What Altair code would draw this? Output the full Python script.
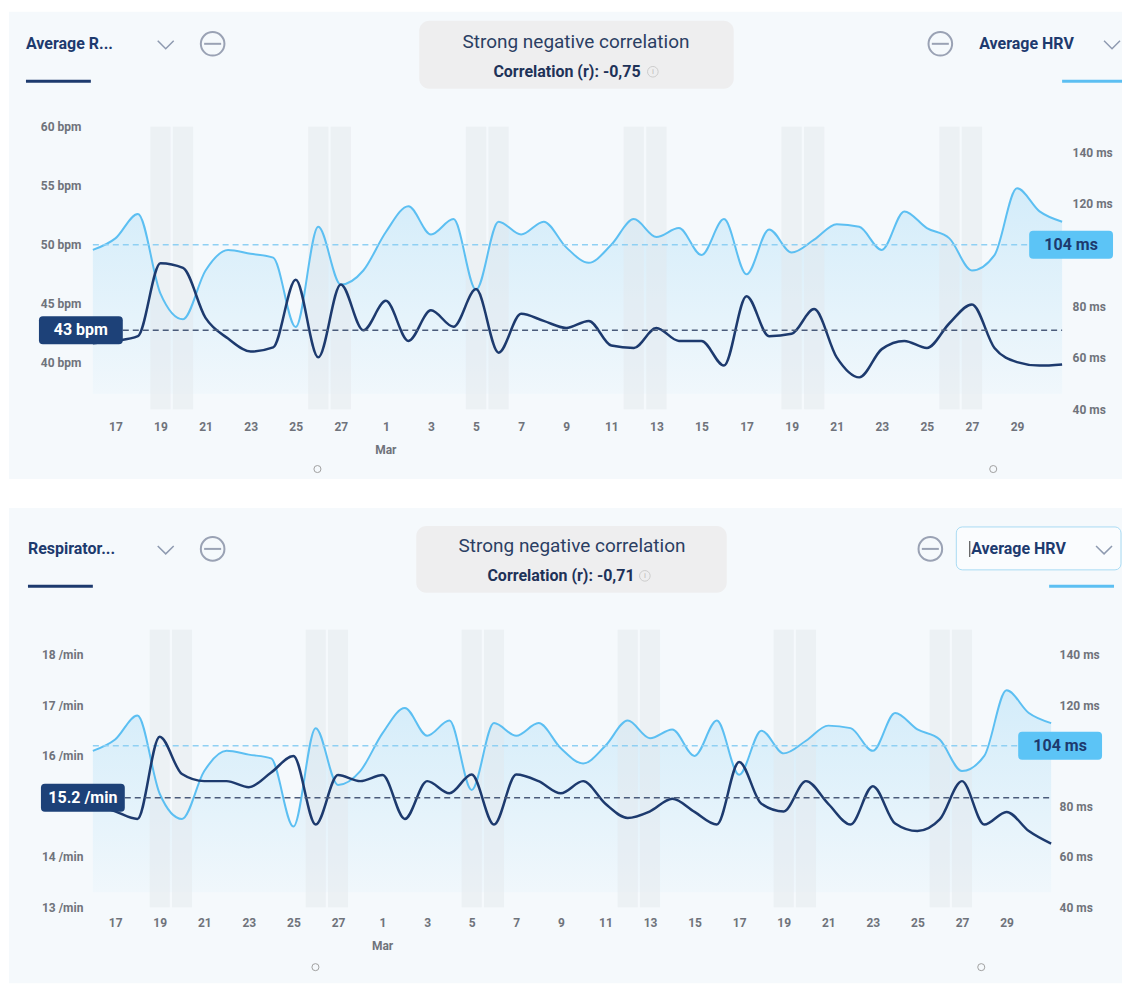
import json
import altair as alt
import pandas as pd

# ---------------- data ----------------
dates = [
    "2022-02-16", "2022-02-17", "2022-02-18", "2022-02-19", "2022-02-20", "2022-02-21",
    "2022-02-22", "2022-02-23", "2022-02-24", "2022-02-25", "2022-02-26", "2022-02-27",
    "2022-02-28", "2022-03-01", "2022-03-02", "2022-03-03", "2022-03-04", "2022-03-05",
    "2022-03-06", "2022-03-07", "2022-03-08", "2022-03-09", "2022-03-10", "2022-03-11",
    "2022-03-12", "2022-03-13", "2022-03-14", "2022-03-15", "2022-03-16", "2022-03-17",
    "2022-03-18", "2022-03-19", "2022-03-20", "2022-03-21", "2022-03-22", "2022-03-23",
    "2022-03-24", "2022-03-25", "2022-03-26", "2022-03-27", "2022-03-28", "2022-03-29",
    "2022-03-30", "2022-03-31",
]
day_labels = [
    "16", "17", "18", "19", "20", "21", "22", "23", "24", "25", "26", "27", "28",
    "1", "2", "3", "4", "5", "6", "7", "8", "9", "10", "11", "12", "13", "14", "15",
    "16", "17", "18", "19", "20", "21", "22", "23", "24", "25", "26", "27", "28", "29",
    "30", "31",
]
hrv = [102, 106.5, 116, 85, 75, 94, 102, 100.5, 99, 72, 111, 88.5, 94, 109, 119, 108,
       114, 86.5, 113, 108, 113, 103, 97, 104, 114, 107, 110.5, 100, 114, 92.5, 110, 101,
       106, 112, 111, 102, 117, 110.5, 106.5, 94, 100, 126, 117, 113]
resting_hr = [41.6, 41.8, 42.2, 48.4, 48.0, 43.75, 42.0, 40.9, 41.25, 47.0, 40.4, 46.6,
              42.7, 45.2, 41.8, 44.4, 43.0, 46.2, 40.8, 44.1, 43.5, 42.9, 43.5, 41.4,
              41.2, 42.9, 41.8, 41.8, 39.7, 45.6, 42.2, 42.4, 44.5, 40.4, 38.7, 41.1,
              41.8, 41.2, 43.3, 44.9, 41.2, 40.0, 39.7, 39.8]
resp_rate = [15.05, 14.9, 14.75, 16.38, 15.64, 15.5, 15.5, 15.38, 15.67, 16.0, 14.64,
             15.62, 15.5, 15.62, 14.75, 15.5, 15.26, 15.63, 14.64, 15.63, 15.5, 15.26,
             15.5, 15.05, 14.77, 14.9, 15.15, 14.89, 14.64, 15.88, 15.05, 14.9, 15.5,
             15.05, 14.64, 15.4, 14.66, 14.51, 14.74, 15.5, 14.64, 14.89, 14.51, 14.26]
hrv_avg = [104]
hr_avg = [42.7]
resp_avg = [15.17]
correlations = ["-0,75", "-0,71"]
left_titles = ["Average R...", "Respirator..."]
right_title = "Average HRV"

df = pd.DataFrame({"d": list(range(len(dates))), "date": dates, "hrv": hrv,
                   "hr": resting_hr, "resp": resp_rate})
wk = pd.to_datetime(pd.Series(dates)).dt.dayofweek
weekend = pd.DataFrame({"d": [i for i, w in enumerate(wk) if w >= 5]})
tick_vals = list(range(1, len(dates) - 2, 2))

# ---------------- style ----------------
NAVY = "#1d3a6e"
LIGHT = "#5cbff2"
PANEL_BG = "#f5f9fc"
FONT = "Roboto"
GRAY_ICON = "#9aa2b4"
AX_LABEL = "#6f737b"
one = pd.DataFrame({"k": [0]})

BOX_PATH = ("M-0.905,-0.333 L0.905,-0.333 Q1,-0.333 1,-0.238 L1,0.238 Q1,0.333 0.905,0.333 "
            "L-0.905,0.333 Q-1,0.333 -1,0.238 L-1,-0.238 Q-1,-0.333 -0.905,-0.333 Z")
CHEVRON = "M-1,-0.5L0,0.5L1,-0.5"
DASH = "M-1,0L1,0"
RIGHT_EDGE = 1031  # panel background right edge, relative to plot origin


def rect(x, x2, y, y2, **kw):
    return alt.Chart(one).mark_rect(**kw).encode(
        x=alt.value(x), x2=alt.value(x2), y=alt.value(y), y2=alt.value(y2))


def text(x, y, s, **kw):
    kw.setdefault("font", FONT)
    return alt.Chart(one).mark_text(text=s, **kw).encode(x=alt.value(x), y=alt.value(y))


def sym(x, y, shape, size, **kw):
    return alt.Chart(one).mark_point(shape=shape, size=size, opacity=1, **kw).encode(
        x=alt.value(x), y=alt.value(y))


def minus_icon(x, y):
    return [sym(x, y, "circle", 560, filled=False, color=GRAY_ICON, strokeWidth=2),
            sym(x, y, DASH, 290, filled=False, color=GRAY_ICON, strokeWidth=2)]


def panel(W, H, left_field, left_domain, left_ticks, left_unit, left_avg, left_avg_text,
          corr, left_title, p):
    xscale = alt.Scale(domain=[0, len(dates) - 1], nice=False, zero=False)
    xaxis = alt.Axis(values=tick_vals, labelExpr=json.dumps(day_labels) + "[datum.value]",
                     grid=False, ticks=False, domain=False, labelPadding=p["xpad"],
                     labelFont=FONT, labelFontSize=12, labelFontWeight="bold",
                     labelColor=AX_LABEL, title=None, zindex=1)
    rscale = alt.Scale(domain=[40, 150], nice=False, zero=False)
    lscale = alt.Scale(domain=left_domain, nice=False, zero=False)
    raxis = alt.Axis(orient="right", values=[40, 60, 80, 120, 140], labelExpr="datum.value + ' ms'",
                     grid=False, ticks=False, domain=False, labelPadding=p["rpad"], labelFont=FONT,
                     labelFontSize=12, labelFontWeight="bold", labelColor=AX_LABEL, title=None,
                     zindex=1)
    laxis = alt.Axis(orient="left", values=left_ticks,
                     labelExpr="datum.value + ' " + left_unit + "'",
                     grid=False, ticks=False, domain=False, labelPadding=p["lpad"], labelFont=FONT,
                     labelFontSize=12, labelFontWeight="bold", labelColor=AX_LABEL, title=None,
                     zindex=1)

    grad = alt.Gradient(gradient="linear", x1=0, x2=0, y1=0, y2=1, stops=[
        alt.GradientStop(color="rgba(92,191,242,0.22)", offset=0),
        alt.GradientStop(color="rgba(92,191,242,0.03)", offset=1)])

    deco = [
        rect(-84, RIGHT_EDGE, p["bg_top"], p["bg_bottom"], color=PANEL_BG),
        text(p["lt_x"], p["hy"], left_title, align="left", baseline="middle",
             fontSize=16, fontWeight="bold", color=NAVY),
        sym(p["chev1"], p["hy"] + 1, CHEVRON, 256, filled=False, color="#8e9ab0", strokeWidth=1.5),
        *minus_icon(p["minus1"], p["hy"]),
        rect(p["ul1"][0], p["ul1"][1], p["ul_y"], p["ul_y"] + 3, color=NAVY),
        rect(p["cbox"][0], p["cbox"][1], p["cbox"][2], p["cbox"][3], color="#eeeeef",
             cornerRadius=10),
        text(p["ctx"], p["cty1"], "Strong negative correlation", align="center",
             baseline="middle", fontSize=19, color="#2b3e63"),
        text(p["ctx2"], p["cty2"], "Correlation (r): " + corr, align="center",
             baseline="middle", fontSize=16, fontWeight="bold", color="#1e3258"),
        sym(p["info"], p["cty2"], "circle", 113, filled=False, color="#cccccc", strokeWidth=1),
        text(p["info"], p["cty2"] + 0.5, "i", align="center", baseline="middle",
             fontSize=8, color="#bbbbbb"),
        *minus_icon(p["minus2"], p["hy"]),
    ]
    if p.get("rbox"):
        deco.append(rect(p["rbox"][0], p["rbox"][1], p["rbox"][2], p["rbox"][3],
                         color="#fafcfe", stroke="#a9dbf3", strokeWidth=1, cornerRadius=6))
        deco.append(rect(p["rt_x"] - 2, p["rt_x"] - 1, p["hy"] - 8, p["hy"] + 8, color="#333333"))
    deco += [
        text(p["rt_x"], p["hy"], right_title, align="left", baseline="middle",
             fontSize=16, fontWeight="bold", color=NAVY),
        sym(p["chev2"], p["hy"] + 1, CHEVRON, 256, filled=False, color="#8e9ab0", strokeWidth=1.5),
        rect(p["ul2"][0], min(p["ul2"][1], RIGHT_EDGE), p["ul_y"], p["ul_y"] + 3, color=LIGHT),
        sym(p["dot1"], p["dot_y"], "circle", 50, filled=False, color="#a0a0a0", strokeWidth=1),
        sym(p["dot2"], p["dot_y"], "circle", 50, filled=False, color="#a0a0a0", strokeWidth=1),
    ]

    base = alt.Chart(df)
    area = base.mark_area(interpolate="monotone", color=grad).encode(
        x=alt.X("d:Q", scale=xscale, axis=xaxis),
        y=alt.Y("hrv:Q", scale=rscale, axis=raxis),
        y2=alt.datum(46))
    bands = alt.Chart(weekend).mark_rect(color="#e3e6ea", opacity=0.45).transform_calculate(
        a="datum.d - 0.45", b="datum.d + 0.45").encode(
        x=alt.X("a:Q", scale=xscale, axis=xaxis), x2="b:Q",
        y=alt.value(0), y2=alt.value(H))
    hrv_line = base.mark_line(interpolate="monotone", color=LIGHT, strokeWidth=2).encode(
        x=alt.X("d:Q", scale=xscale, axis=xaxis),
        y=alt.Y("hrv:Q", scale=rscale, axis=raxis))
    avg_df = pd.DataFrame({"v": hrv_avg})
    hrv_rule = alt.Chart(avg_df).mark_rule(color="#8fd0f3", strokeWidth=1.5,
                                           strokeDash=[6, 4]).encode(
        y=alt.Y("v:Q", scale=rscale, axis=raxis), x=alt.value(0), x2=alt.value(p["hbox"] - 42))
    hrv_box = alt.Chart(avg_df).mark_point(shape=BOX_PATH, size=7056, filled=True,
                                           color="#5cc4f6", opacity=1).encode(
        y=alt.Y("v:Q", scale=rscale, axis=raxis), x=alt.value(p["hbox"]))
    hrv_txt = alt.Chart(avg_df).mark_text(font=FONT, fontSize=16, fontWeight="bold",
                                          color=NAVY).transform_calculate(
        t="format(datum.v, 'd') + ' ms'").encode(
        y=alt.Y("v:Q", scale=rscale, axis=raxis), x=alt.value(p["hbox"]), text="t:N")
    mar = alt.Chart(one).mark_text(text="Mar", font=FONT, fontSize=12, fontWeight="bold",
                                   color=AX_LABEL).encode(
        x=alt.X("pos:Q", scale=xscale, axis=xaxis), y=alt.value(p["mar_y"])
    ).transform_calculate(pos=str(day_labels.index("1")))

    right = alt.layer(*deco, area, bands, hrv_line, hrv_rule, hrv_box, hrv_txt, mar)

    lavg_df = pd.DataFrame({"v": [left_avg]})
    l_line = base.mark_line(interpolate="monotone", color=NAVY, strokeWidth=2.5).encode(
        x=alt.X("d:Q", scale=xscale, axis=xaxis),
        y=alt.Y(left_field + ":Q", scale=lscale, axis=laxis))
    l_rule = alt.Chart(lavg_df).mark_rule(color="#4a5b7a", strokeWidth=1.5,
                                          strokeDash=[6, 4]).encode(
        y=alt.Y("v:Q", scale=lscale, axis=laxis), x=alt.value(p["lbox"] + 42), x2=alt.value(W))
    l_box = alt.Chart(lavg_df).mark_point(shape=BOX_PATH, size=7056, filled=True,
                                          color="#1d4178", opacity=1).encode(
        y=alt.Y("v:Q", scale=lscale, axis=laxis), x=alt.value(p["lbox"]))
    l_txt = alt.Chart(lavg_df).mark_text(text=left_avg_text, font=FONT, fontSize=16,
                                         fontWeight="bold", color="white").encode(
        y=alt.Y("v:Q", scale=lscale, axis=laxis), x=alt.value(p["lbox"]))
    left = alt.layer(l_line, l_rule, l_box, l_txt)

    return alt.layer(right, left).resolve_scale(y="independent").properties(width=W, height=H)


p1 = dict(bg_top=-115, bg_bottom=353, hy=-83, lt_x=-67, chev1=73, minus1=120,
          ul1=(-67, -2), ul_y=-47, cbox=(327, 642, -106, -38), ctx=484, cty1=-85,
          ctx2=475, cty2=-55, info=561, minus2=849, rt_x=888, chev2=1021, ul2=(971, 1036),
          dot1=225, dot2=902, dot_y=343, mar_y=324, xpad=12, lpad=12, rpad=10,
          hbox=980, lbox=-12)
p2 = dict(bg_top=-122, bg_bottom=354, hy=-81, lt_x=-65, chev1=73, minus1=120,
          ul1=(-65, 0), ul_y=-45, cbox=(324, 635, -104, -37), ctx=480, cty1=-84,
          ctx2=469, cty2=-54, info=553, minus2=839, rt_x=880, chev2=1013, ul2=(958, 1023),
          rbox=(865, 1030, -103, -60),
          dot1=223, dot2=890, dot_y=338, mar_y=317, xpad=10, lpad=10, rpad=8,
          hbox=969, lbox=-10)

c1 = panel(971, 283, "hr", [36, 60], [40, 45, 50, 55, 60], "bpm", hr_avg[0],
           str(round(hr_avg[0])) + " bpm", correlations[0], left_titles[0], p1)
c2 = panel(960, 278, "resp", [13, 18.5], [13, 14, 16, 17, 18], "/min", resp_avg[0],
           f"{resp_avg[0]:.1f} /min", correlations[1], left_titles[1], p2)

chart = alt.vconcat(c1, c2, spacing=27).properties(
    padding={"left": 0, "top": 2, "right": 0, "bottom": 0}, background="white"
).configure_view(stroke=None).configure(font=FONT)

chart.save("out.html", embed_options={"renderer": "svg", "actions": False})
